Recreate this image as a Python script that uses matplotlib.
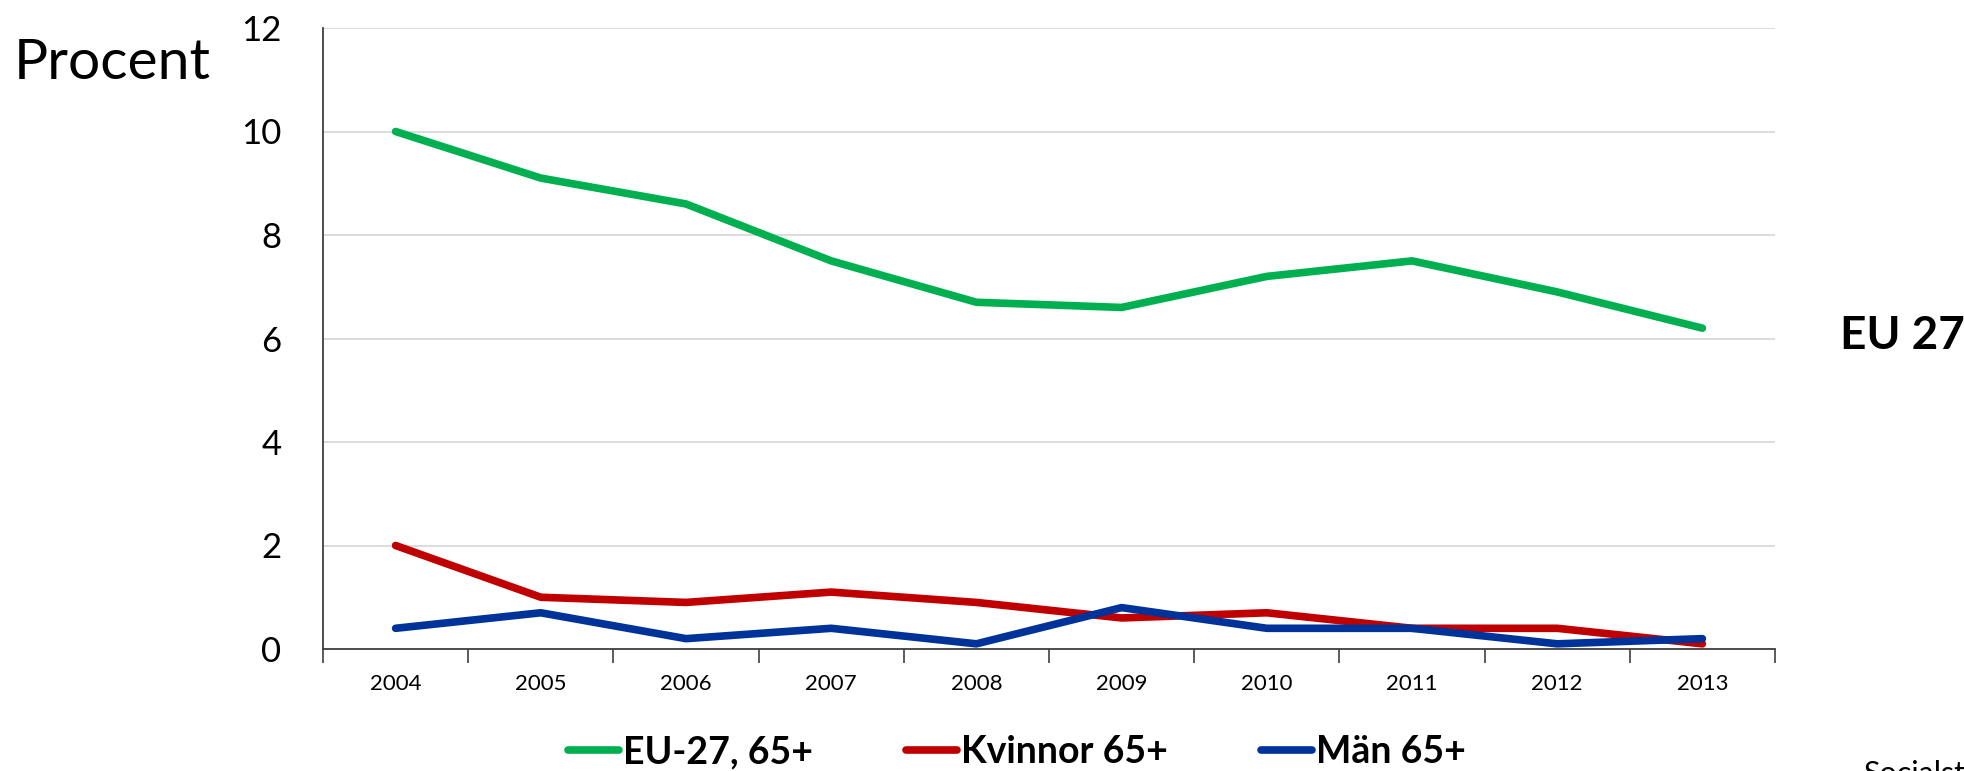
import matplotlib
matplotlib.use("Agg")
import matplotlib.pyplot as plt
from matplotlib.ticker import FixedLocator
from matplotlib.lines import Line2D

plt.rcParams['font.family'] = ['Lato', 'DejaVu Sans']

years = ["2004", "2005", "2006", "2007", "2008", "2009", "2010", "2011", "2012", "2013"]
eu27 = [10.0, 9.1, 8.6, 7.5, 6.7, 6.6, 7.2, 7.5, 6.9, 6.2]
kvinnor = [2.0, 1.0, 0.9, 1.1, 0.9, 0.6, 0.7, 0.4, 0.4, 0.1]
man = [0.4, 0.7, 0.2, 0.4, 0.1, 0.8, 0.4, 0.4, 0.1, 0.2]
series_names = ["EU-27, 65+", "Kvinnor 65+", "Män 65+"]
colors = ["#00B050", "#C00000", "#003399"]
yticks = [0, 2, 4, 6, 8, 10, 12]

W, H = 1964, 771
fig = plt.figure(figsize=(W / 100, H / 100), dpi=100)
ax = fig.add_axes([323 / W, 1 - 649 / H, (1775 - 323) / W, (649 - 28) / H])

x = list(range(len(years)))
for vals, c, name in zip([eu27, kvinnor, man], colors, series_names):
    ax.plot(x, vals, color=c, lw=5.5, solid_capstyle='round', solid_joinstyle='round', label=name, zorder=3)

ax.set_xlim(-0.5, len(years) - 0.5)
ax.set_ylim(0, 12)
ax.set_yticks(yticks)
ax.set_yticklabels([str(v) for v in yticks], fontsize=25)
ax.tick_params(axis='y', length=0, pad=30)
ax.set_xticks(x)
ax.set_xticklabels(years, fontsize=16)
ax.tick_params(axis='x', which='major', length=0, pad=18)
ax.xaxis.set_minor_locator(FixedLocator([i - 0.5 for i in range(len(years) + 1)]))
ax.tick_params(axis='x', which='minor', length=10, width=1.2, color='#404040', direction='out')
ax.grid(axis='y', color='#D9D9D9', lw=1.3, zorder=0)
for s in ['top', 'right']:
    ax.spines[s].set_visible(False)
for s in ['left', 'bottom']:
    ax.spines[s].set_color('#404040')
    ax.spines[s].set_linewidth(1.3)

fig.text(14 / W, 1 - 79 / H, "Procent", fontsize=41, ha='left', va='baseline')
fig.text(1840 / W, 1 - 349 / H, "EU 27", fontsize=33, fontweight='bold', ha='left', va='baseline')
fig.text(1863 / W, 1 - 760 / H, "Socialstyrelsen", fontsize=22, ha='left', va='top')

handles = [Line2D([0], [0], color=c, lw=5.5, solid_capstyle='round') for c in colors]
leg = fig.legend(handles, series_names, loc='center', bbox_to_anchor=(1017 / W, 1 - 752 / H),
                 ncol=3, frameon=False, handlelength=1.35, handletextpad=0.1, columnspacing=2.5,
                 prop={'size': 27, 'weight': 'bold'})

fig.savefig("out.png", dpi=100)
